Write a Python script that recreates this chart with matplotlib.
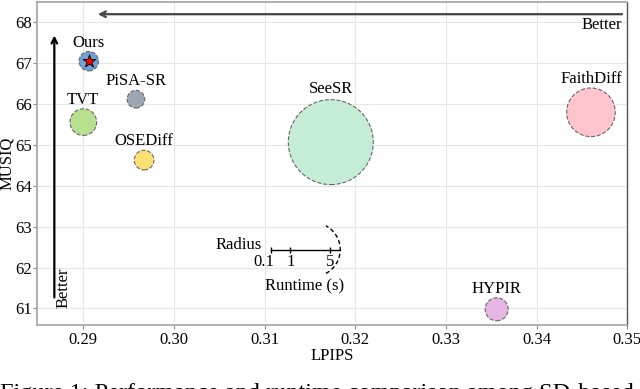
import numpy as np
import matplotlib.pyplot as plt

plt.rcParams['font.family'] = ['Liberation Serif', 'DejaVu Serif']

methods = ['Ours', 'PiSA-SR', 'TVT', 'OSEDiff', 'SeeSR', 'FaithDiff', 'HYPIR']
lpips = [0.2906, 0.2958, 0.2900, 0.2967, 0.3173, 0.3460, 0.3356]
musiq = [67.05, 66.12, 65.56, 64.63, 65.07, 65.80, 60.98]
runtime = [0.26, 0.215, 0.49, 0.266, 5.0, 1.64, 0.366]
colors = ['#6fa2d4', '#9ca7b1', '#b9e08f', '#fde074', '#c4ecd6', '#ffc4cd', '#e6b5e3']
legend_ticks = [0.1, 1, 5]

px_per_x = 9070.0   # pixels per LPIPS unit
px_per_y = 40.9     # pixels per MUSIQ unit


def radius_px(t):
    return 19 * np.sqrt(t)


fig = plt.figure(figsize=(6.4, 3.89), dpi=100)
ax = fig.add_axes([0.058, 0.165, 0.922, 0.83])
ax.set_xlim(0.2849, 0.35)
ax.set_ylim(60.6, 68.5)

ax.set_xticks([0.29, 0.30, 0.31, 0.32, 0.33, 0.34, 0.35])
ax.set_xticklabels(['0.29', '0.30', '0.31', '0.32', '0.33', '0.34', '0.35'])
ax.set_yticks(range(61, 69))
ax.grid(True, color='#e6e6e6', lw=0.8)
ax.set_axisbelow(True)
for side in ['left', 'bottom', 'top']:
    ax.spines[side].set_color('#aaaaaa')
    ax.spines[side].set_linewidth(1.3)
ax.spines['right'].set_color('#555555')
ax.spines['right'].set_linewidth(1.0)
ax.tick_params(direction='out', length=3, color='#888888', labelsize=12, pad=2)
ax.tick_params(axis='y', pad=1)
ax.set_xlabel('LPIPS', fontsize=12, labelpad=0)
ax.set_ylabel('MUSIQ', fontsize=12)
ax.yaxis.set_label_coords(-0.037, 0.5)

for name, x, y, t, c in zip(methods, lpips, musiq, runtime, colors):
    r = radius_px(t)
    d_pt = 2 * r * 0.72
    ax.scatter([x], [y], s=d_pt ** 2, color=c, edgecolors='#666666',
               linewidths=0.8, linestyle='--', zorder=3)
    gap = 3 if name == 'SeeSR' else 1
    ax.annotate(name, (x, y), xytext=(0, (r + gap) * 0.72), textcoords='offset points',
                ha='center', va='bottom', fontsize=12, zorder=4)

# star on our method
ax.scatter([lpips[0]], [musiq[0]], marker='*', s=95, color='red',
           edgecolors='black', linewidths=0.6, zorder=5)

# "better" arrows
ax.annotate('', xy=(0.2916, 68.2), xytext=(0.34943, 68.2),
            arrowprops=dict(arrowstyle='->', lw=1.6, color='#444444', shrinkA=0, shrinkB=0))
ax.text(0.34943, 67.93, 'Better', ha='right', va='center', fontsize=12)
ax.annotate('', xy=(0.2868, 67.68), xytext=(0.2868, 61.27),
            arrowprops=dict(arrowstyle='->', lw=1.6, color='black', shrinkA=0, shrinkB=0))
ax.text(0.2878, 61.51, 'Better', ha='center', va='center', rotation=90, fontsize=12)

# radius legend
x0 = 0.31073
y0 = 62.44
tick_x = [x0 + 25.8 * (t ** 0.58 - legend_ticks[0] ** 0.58) / px_per_x for t in legend_ticks]
x_end = x0 + 69 / px_per_x
ax.plot([x0, x_end], [y0, y0], color='black', lw=1.0)
ax.plot(tick_x, [y0] * len(tick_x), ls='none', marker='|', ms=5, mew=1.0, color='black')
for i, (tx, t) in enumerate(zip(tick_x, legend_ticks)):
    dx = -5 if i == 0 else 0
    ax.annotate('%g' % t, (tx, y0), xytext=(dx, -3), textcoords='offset points',
                ha='center', va='top', fontsize=12)
ax.text(x0 - 9 / px_per_x, y0 + 0.12, 'Radius', ha='right', va='center', fontsize=12)
ax.text(0.31437, 61.54, 'Runtime (s)', ha='center', va='center', fontsize=12)

# dashed arc, drawn in pixel space so it stays round
arc_cx = x0 + 42 / px_per_x
th = np.radians(np.linspace(-62, 62, 60))
ax.plot(arc_cx + 27 * np.cos(th) / px_per_x, y0 + 27 * np.sin(th) / px_per_y,
        ls=(0, (3, 2)), lw=1.0, color='black')

fig.text(0.0, -0.0257, 'Figure 1: Performance and runtime comparison among SD-based',
         ha='left', va='baseline', fontsize=17.5)

fig.savefig('out.png', dpi=100)
